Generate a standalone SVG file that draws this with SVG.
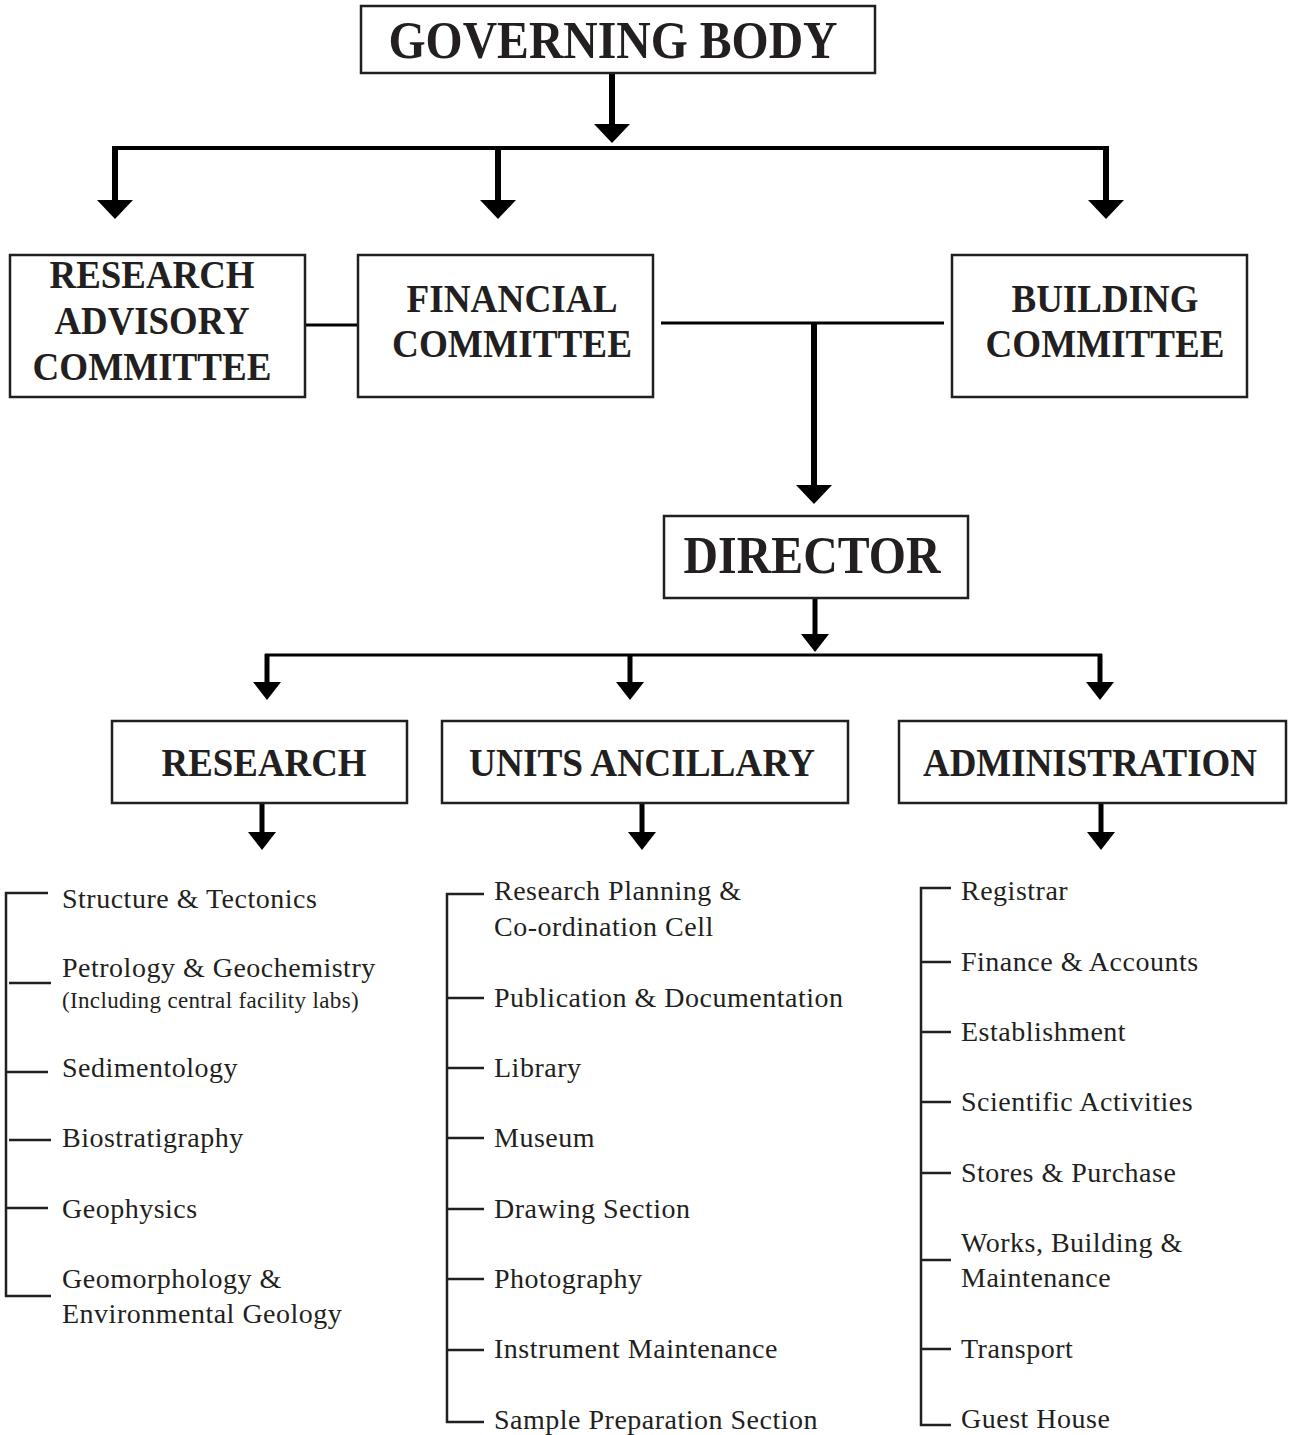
<svg xmlns="http://www.w3.org/2000/svg" xmlns:xlink="http://www.w3.org/1999/xlink" width="1289" height="1435" viewBox="0 0 1289 1435">
<style>
.box{fill:#fff;stroke:#231f20;stroke-width:2.5}
.t{font-family:"Liberation Serif","Times New Roman",serif;font-weight:bold;fill:#231f20;text-anchor:middle}
.big{font-size:52px}
.mid{font-size:40px}
.li{font-family:"Liberation Serif","Times New Roman",serif;font-size:28px;letter-spacing:0.5px;fill:#231f20}
.sm{font-size:23px;letter-spacing:0.35px}
.c{stroke:#000;fill:none}
.tk{stroke:#231f20;stroke-width:2.5;fill:none}
.ah{fill:#000}
</style>
<defs>
<path id="ahL" d="M-18,0 L18,0 L0,19 Z"/>
<path id="ahS" d="M-14,0 L14,0 L0,18 Z"/>
</defs>
<rect width="1289" height="1435" fill="#fff"/>

<g id="connectors">
  <line class="c" x1="612" y1="73" x2="612" y2="127" stroke-width="6"/>
  <use xlink:href="#ahL" class="ah" x="612" y="124"/>
  <line class="c" x1="113" y1="148" x2="1108" y2="148" stroke-width="4"/>
  <line class="c" x1="115" y1="146" x2="115" y2="203" stroke-width="6"/>
  <use xlink:href="#ahL" class="ah" x="115" y="200"/>
  <line class="c" x1="498" y1="146" x2="498" y2="203" stroke-width="6"/>
  <use xlink:href="#ahL" class="ah" x="498" y="200"/>
  <line class="c" x1="1106" y1="146" x2="1106" y2="203" stroke-width="6"/>
  <use xlink:href="#ahL" class="ah" x="1106" y="200"/>
  <line class="c" x1="305" y1="325" x2="358" y2="325" stroke-width="3"/>
  <line class="c" x1="661" y1="323" x2="944" y2="323" stroke-width="3"/>
  <line class="c" x1="814" y1="322" x2="814" y2="488" stroke-width="6"/>
  <use xlink:href="#ahL" class="ah" x="814" y="485"/>
  <line class="c" x1="815" y1="598" x2="815" y2="637" stroke-width="5"/>
  <use xlink:href="#ahS" class="ah" x="815" y="634"/>
  <line class="c" x1="265" y1="655" x2="1102" y2="655" stroke-width="3"/>
  <line class="c" x1="267" y1="654" x2="267" y2="685" stroke-width="5"/>
  <use xlink:href="#ahS" class="ah" x="267" y="682"/>
  <line class="c" x1="630" y1="654" x2="630" y2="685" stroke-width="5"/>
  <use xlink:href="#ahS" class="ah" x="630" y="682"/>
  <line class="c" x1="1100" y1="654" x2="1100" y2="685" stroke-width="5"/>
  <use xlink:href="#ahS" class="ah" x="1100" y="682"/>
  <line class="c" x1="262" y1="803" x2="262" y2="835" stroke-width="5"/>
  <use xlink:href="#ahS" class="ah" x="262" y="832"/>
  <line class="c" x1="642" y1="803" x2="642" y2="835" stroke-width="5"/>
  <use xlink:href="#ahS" class="ah" x="642" y="832"/>
  <line class="c" x1="1101" y1="803" x2="1101" y2="835" stroke-width="5"/>
  <use xlink:href="#ahS" class="ah" x="1101" y="832"/>
</g>

<g id="governing-body">
  <rect class="box" x="361" y="6" width="514" height="67"/>
  <text class="t big" x="613" y="58" textLength="449" lengthAdjust="spacingAndGlyphs">GOVERNING BODY</text>
</g>
<g id="research-advisory-committee">
  <rect class="box" x="10" y="255" width="295" height="142"/>
  <text class="t mid" x="152" y="288" textLength="205" lengthAdjust="spacingAndGlyphs">RESEARCH</text>
  <text class="t mid" x="152" y="334" textLength="195" lengthAdjust="spacingAndGlyphs">ADVISORY</text>
  <text class="t mid" x="152" y="380" textLength="239" lengthAdjust="spacingAndGlyphs">COMMITTEE</text>
</g>
<g id="financial-committee">
  <rect class="box" x="358" y="255" width="295" height="142"/>
  <text class="t mid" x="512" y="312" textLength="211" lengthAdjust="spacingAndGlyphs">FINANCIAL</text>
  <text class="t mid" x="512" y="357" textLength="240" lengthAdjust="spacingAndGlyphs">COMMITTEE</text>
</g>
<g id="building-committee">
  <rect class="box" x="952" y="255" width="295" height="142"/>
  <text class="t mid" x="1105" y="312" textLength="187" lengthAdjust="spacingAndGlyphs">BUILDING</text>
  <text class="t mid" x="1105" y="357" textLength="239" lengthAdjust="spacingAndGlyphs">COMMITTEE</text>
</g>
<g id="director">
  <rect class="box" x="664" y="516" width="304" height="82"/>
  <text class="t big" x="812" y="573" textLength="257" lengthAdjust="spacingAndGlyphs">DIRECTOR</text>
</g>
<g id="research">
  <rect class="box" x="112" y="721" width="295" height="82"/>
  <text class="t mid" x="264" y="776" textLength="205" lengthAdjust="spacingAndGlyphs">RESEARCH</text>
</g>
<g id="units-ancillary">
  <rect class="box" x="442" y="721" width="406" height="82"/>
  <text class="t mid" x="642" y="776" textLength="346" lengthAdjust="spacingAndGlyphs">UNITS ANCILLARY</text>
</g>
<g id="administration">
  <rect class="box" x="899" y="721" width="387" height="82"/>
  <text class="t mid" x="1090" y="776" textLength="334" lengthAdjust="spacingAndGlyphs">ADMINISTRATION</text>
</g>

<g id="research-list">
  <path class="tk" d="M48,893 H6 V1296 H51 M9,983 H51 M6,1072 H48 M9,1140 H51 M6,1208 H48"/>
  <text class="li" x="62" y="908">Structure &amp; Tectonics</text>
  <text class="li" x="62" y="977">Petrology &amp; Geochemistry</text>
  <text class="li sm" x="62" y="1008">(Including central facility labs)</text>
  <text class="li" x="62" y="1077">Sedimentology</text>
  <text class="li" x="62" y="1147">Biostratigraphy</text>
  <text class="li" x="62" y="1218">Geophysics</text>
  <text class="li" x="62" y="1288">Geomorphology &amp;</text>
  <text class="li" x="62" y="1323">Environmental Geology</text>
</g>
<g id="units-list">
  <path class="tk" d="M484,894 H447 V1422 H484 M447,998 H484 M447,1068 H484 M447,1138 H484 M447,1209 H484 M447,1279 H484 M447,1350 H484"/>
  <text class="li" x="494" y="900">Research Planning &amp;</text>
  <text class="li" x="494" y="936">Co-ordination Cell</text>
  <text class="li" x="494" y="1007">Publication &amp; Documentation</text>
  <text class="li" x="494" y="1077">Library</text>
  <text class="li" x="494" y="1147">Museum</text>
  <text class="li" x="494" y="1218">Drawing Section</text>
  <text class="li" x="494" y="1288">Photography</text>
  <text class="li" x="494" y="1358">Instrument Maintenance</text>
  <text class="li" x="494" y="1429">Sample Preparation Section</text>
</g>
<g id="administration-list">
  <path class="tk" d="M951,888 H921 V1425 H951 M921,962 H951 M921,1032 H951 M921,1102 H951 M921,1173 H951 M921,1260 H951 M921,1349 H951"/>
  <text class="li" x="961" y="900">Registrar</text>
  <text class="li" x="961" y="971">Finance &amp; Accounts</text>
  <text class="li" x="961" y="1041">Establishment</text>
  <text class="li" x="961" y="1111">Scientific Activities</text>
  <text class="li" x="961" y="1182">Stores &amp; Purchase</text>
  <text class="li" x="961" y="1252">Works, Building &amp;</text>
  <text class="li" x="961" y="1287">Maintenance</text>
  <text class="li" x="961" y="1358">Transport</text>
  <text class="li" x="961" y="1428">Guest House</text>
</g>
</svg>
